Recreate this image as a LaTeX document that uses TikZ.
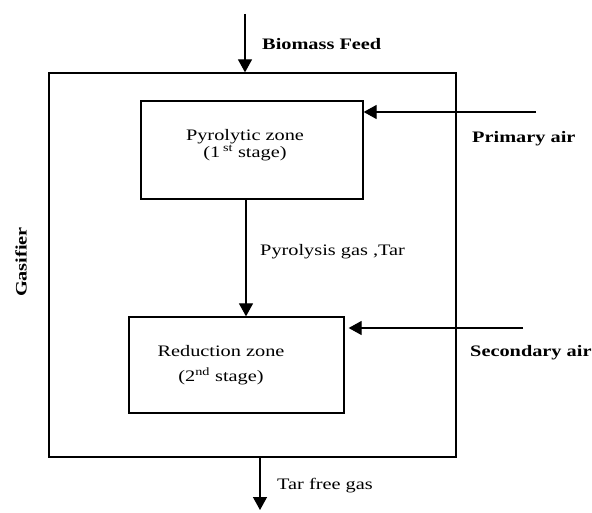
\documentclass[tikz,border=0pt]{standalone}
\usepackage{fontspec}
\setmainfont{Liberation Serif}[FakeStretch=1.27]
\usetikzlibrary{arrows.meta}
\begin{document}
\begin{tikzpicture}[x=1pt,y=1pt,
  zonebox/.style={draw, line width=1.3pt, inner sep=0pt},
  arr/.style={line width=1.3pt, -{Triangle[width=14pt,length=13pt]}},
  lbl/.style={font=\fontsize{16}{18}\selectfont, inner sep=0pt, anchor=west},
  blbl/.style={font=\fontsize{16}{18}\selectfont\bfseries, inner sep=0pt, anchor=west},
  ztext/.style={font=\fontsize{16}{18}\selectfont, inner sep=0pt, align=center}]
\useasboundingbox (0,0) rectangle (592,512);
\fill[white] (0,0) rectangle (592,512);
% boxes
\node[zonebox, minimum width=407pt, minimum height=384pt] (outer) at (252.5,247) {};
\node[zonebox, minimum width=222pt, minimum height=98pt] (box1) at (252,362) {};
\node[zonebox, minimum width=215pt, minimum height=96pt] (box2) at (236.5,147) {};
% box texts
\node[ztext] (t1) at (245,366.5) {Pyrolytic zone\\[-1pt](1\,\textsuperscript{st} stage)};
\node[ztext] (t2) at (221,146.5) {Reduction zone\\[7pt](2\textsuperscript{nd} stage)};
% coordinates
\coordinate (feed) at (245,498);
\coordinate (pa) at (536,400);
\coordinate (sa) at (523,184);
\coordinate (mid) at (246,0);
\coordinate (out) at (260,2);
% arrows
\draw[arr] (feed) -- (feed |- outer.north);
\draw[arr] (pa) -- (pa -| box1.east);
\draw[arr] (box1.south -| mid) -- (box2.north -| mid);
\draw[arr, shorten >=4pt] (sa) -- (sa -| box2.east);
\draw[arr] (outer.south -| out) -- (out);
% labels
\node[blbl] (lfeed) at (262,468) {Biomass Feed};
\node[blbl] (lpa) at (472,373) {Primary air};
\node[lbl] (lpg) at (260,260) {Pyrolysis gas ,Tar};
\node[blbl] (lsa) at (470,159) {Secondary air};
\node[lbl] (ltf) at (277,26) {Tar free gas};
\node[font=\fontsize{16}{18}\selectfont\bfseries, inner sep=0pt, rotate=90] (lgas) at (21,250) {Gasifier};
\end{tikzpicture}
\end{document}
